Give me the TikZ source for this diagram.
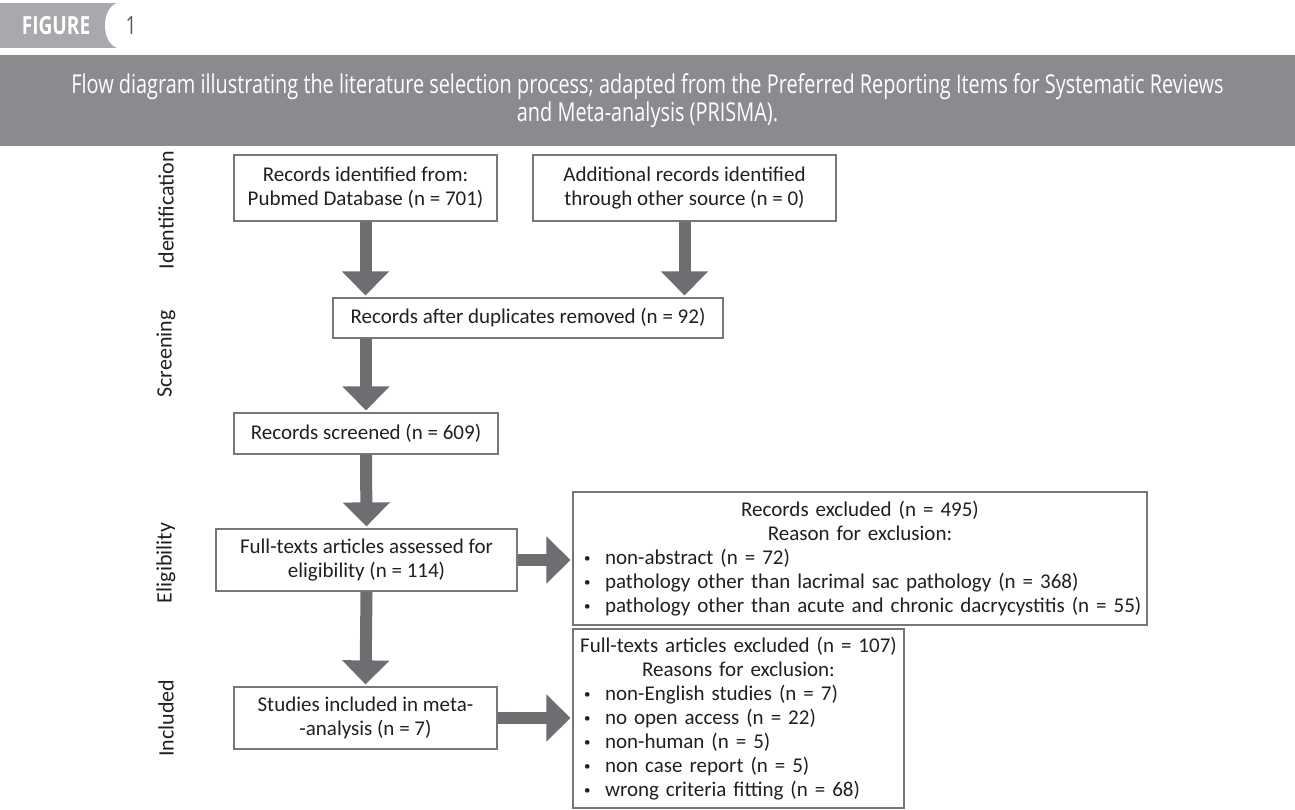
\documentclass[tikz,border=0pt]{standalone}
\usepackage{fontspec}
\setmainfont{Carlito}
\newfontfamily\capfont[FakeStretch=0.765]{Open Sans}
\usetikzlibrary{arrows.meta}
\definecolor{tabgray}{HTML}{A7A9AC}
\definecolor{bandgray}{HTML}{8A8B8F}
\definecolor{boxline}{HTML}{76777A}
\definecolor{arrowgray}{HTML}{6D6E71}
\definecolor{txt}{HTML}{231F20}
\definecolor{numgray}{HTML}{58595B}
\newcommand\bitem[2][0pt]{\makebox[\linewidth][l]{\hspace{#1}\makebox[21pt][l]{\fontsize{13}{24}\selectfont\raisebox{1.5pt}{•}}#2}}
\begin{document}
\begin{tikzpicture}[x=1pt,y=-1pt,
  box/.style={draw=boxline,line width=2.2pt,fill=white,text=txt,
    font=\fontsize{21}{24}\selectfont,align=center,inner sep=0pt},
  flow/.style={draw=arrowgray,line width=12pt,
    -{Triangle[length=24pt,width=46pt]},shorten >=1.5pt},
  stage/.style={rotate=90,text=txt,font=\fontsize{22}{24}\selectfont}]
\useasboundingbox (0,0) rectangle (1295,810);
% header tab
\fill[tabgray] (0,3) rectangle (120,48);
\fill[white] (122,3) -- (117,3) .. controls (101,9) and (101,42) .. (117,48) -- (122,48) -- cycle;
\node[font=\capfont\bfseries\fontsize{25}{28}\selectfont,text=white] (fig) at (56,26) {FIGURE};
\node[font=\capfont\fontsize{25}{28}\selectfont,text=numgray] (num) at (131,26) {1};
% caption band
\fill[bandgray] (0,55) rectangle (1295,146);
\node[text=white,font=\capfont\fontsize{26}{28}\selectfont,align=center] (cap) at (647.5,101)
  {Flow diagram illustrating the literature selection process; adapted from the Preferred Reporting Items for Systematic Reviews\\and Meta-analysis (PRISMA).};
% stage labels
\node[stage] (lid) at (166,210) {Identification};
\node[stage] (lsc) at (166,354) {Screening};
\node[stage] (lel) at (166,563) {Eligibility};
\node[stage] (lin) at (166,718) {Included};
% boxes
\node[box,minimum width=263pt,minimum height=66pt] (b1) at (365.5,188)
  {Records identified from:\\Pubmed Database (n = 701)};
\node[box,minimum width=303pt,minimum height=66pt] (b2) at (684.5,188)
  {Additional records identified\\through other source (n = 0)};
\node[box,minimum width=390pt,minimum height=40pt] (dup) at (528,318)
  {Records after duplicates removed (n = 92)};
\node[box,minimum width=264pt,minimum height=41pt] (scr) at (366,433.5)
  {Records screened (n = 609)};
\node[box,minimum width=301pt,minimum height=62pt] (full) at (366.5,560)
  {Full-texts articles assessed for\\eligibility (n = 114)};
\node[box,minimum width=263pt,minimum height=62pt] (stud) at (365.5,718)
  {Studies included in meta-\\-analysis (n = 7)};
\node[box,inner xsep=11pt,text width=552pt,minimum height=133pt] (ex1) at (860,558.5)
  {Records excluded (n = 495)\\Reason for exclusion:\\
   \bitem{non-abstract (n = 72)}\\
   \bitem{pathology other than lacrimal sac pathology (n = 368)}\\
   \bitem{pathology other than acute and chronic dacrycystitis (n = 55)}};
\node[box,inner xsep=6pt,text width=319pt,minimum height=179pt] (ex2) at (738.5,718.5)
  {Full-texts articles excluded (n = 107)\\Reasons for exclusion:\\
   \bitem[5pt]{non-English studies (n = 7)}\\
   \bitem[5pt]{no open access (n = 22)}\\
   \bitem[5pt]{non-human (n = 5)}\\
   \bitem[5pt]{non case report (n = 5)}\\
   \bitem[5pt]{wrong criteria fitting (n = 68)}};
% arrows
\draw[flow] (b1.south) -- (b1.south |- dup.north);
\draw[flow] (b2.south) -- (b2.south |- dup.north);
\draw[flow] (scr.north |- dup.south) -- (scr.north);
\draw[flow] (scr.south) -- (full.north);
\draw[flow] (full.south) -- (stud.north);
\draw[flow] (full.east) -- (full.east -| ex1.west);
\draw[flow] (stud.east) -- (stud.east -| ex2.west);
\end{tikzpicture}
\end{document}
